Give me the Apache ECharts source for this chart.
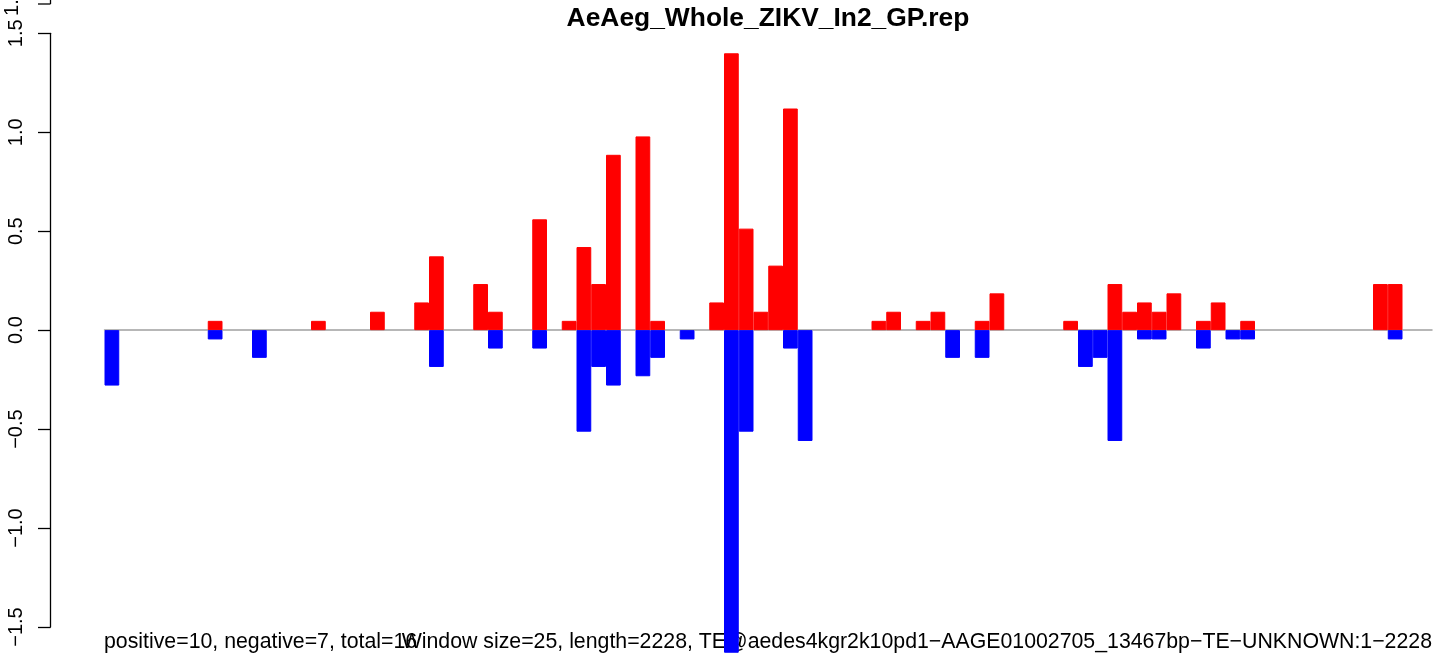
<!DOCTYPE html>
<html><head><meta charset="utf-8">
<script src="https://cdn.jsdelivr.net/npm/echarts@6/dist/echarts.min.js"></script>
<style>html,body{margin:0;padding:0;background:#fff}#c{width:1433px;height:654px}</style>
</head><body><div id="c"></div>
<script>
const chartTitle = 'AeAeg_Whole_ZIKV_In2_GP.rep';
const leftNote = 'positive=10, negative=7, total=16';
const rightNote = 'Window size=25, length=2228, TE@aedes4kgr2k10pd1\u2212AAGE01002705_13467bp\u2212TE\u2212UNKNOWN:1\u22122228';
const binCount = 90;
const yTicks = [-1.5, -1.0, -0.5, 0.0, 0.5, 1.0, 1.5];

// positive (red) windows: bin index and value
const posBins = [7, 14, 18, 21, 22, 25, 26, 29, 31, 32, 33, 34, 36, 37, 41, 42, 43, 44, 45, 46, 52, 53, 55, 56, 59, 60, 65, 68, 69, 70, 71, 72, 74, 75, 77, 86, 87];
const posVals = [0.047, 0.047, 0.093, 0.14, 0.373, 0.233, 0.093, 0.56, 0.047, 0.42, 0.233, 0.886, 0.979, 0.047, 0.14, 1.399, 0.513, 0.093, 0.326, 1.12, 0.047, 0.093, 0.047, 0.093, 0.047, 0.186, 0.047, 0.233, 0.093, 0.14, 0.093, 0.186, 0.047, 0.14, 0.047, 0.233, 0.233];

// negative (blue) windows: bin index and value
const negBins = [0, 7, 10, 22, 26, 29, 32, 33, 34, 36, 37, 39, 42, 43, 46, 47, 57, 59, 66, 67, 68, 70, 71, 74, 76, 77, 87];
const negVals = [-0.28, -0.047, -0.14, -0.186, -0.093, -0.093, -0.513, -0.186, -0.28, -0.233, -0.14, -0.047, -1.63, -0.513, -0.093, -0.56, -0.14, -0.14, -0.186, -0.14, -0.56, -0.047, -0.047, -0.093, -0.047, -0.047, -0.047];

const cats = Array.from({length: binCount}, (_, i) => String(i + 1));
const posData = new Array(binCount).fill(null);
posBins.forEach((b, i) => { posData[b] = posVals[i]; });
const negData = new Array(binCount).fill(null);
negBins.forEach((b, i) => { negData[b] = negVals[i]; });

const FONT = '"Liberation Sans", Arial, Helvetica, sans-serif';
const chart = echarts.init(document.getElementById('c'), null, {renderer: 'canvas'});
chart.setOption({
  animation: false,
  backgroundColor: '#ffffff',
  grid: {left: 104.5, right: 1, top: 33.3, bottom: 27, containLabel: false},
  xAxis: {
    type: 'category', data: cats, boundaryGap: true,
    axisLine: {show: true, onZero: true, lineStyle: {color: '#a0a0a0', width: 1.5}},
    axisTick: {show: false}, axisLabel: {show: false}, splitLine: {show: false}
  },
  yAxis: {
    type: 'value', min: yTicks[0], max: yTicks[yTicks.length - 1], interval: 0.5,
    offset: 54,
    axisLine: {show: true, lineStyle: {color: '#000', width: 1.3}},
    axisTick: {show: true, length: 12.5, lineStyle: {color: '#000', width: 1.3}},
    splitLine: {show: false},
    axisLabel: {
      rotate: 90, margin: 24, fontSize: 20, color: '#000', fontFamily: FONT,
      formatter: v => (v < 0 ? '\u2212' : '') + Math.abs(v).toFixed(1)
    }
  },
  series: [
    {type: 'bar', data: posData, barWidth: '100%', barGap: '-100%', clip: false,
     itemStyle: {color: '#ff0000', borderColor: '#ff0000', borderWidth: 1}},
    {type: 'bar', data: negData, barWidth: '100%', barGap: '-100%', clip: false,
     itemStyle: {color: '#0000ff', borderColor: '#0000ff', borderWidth: 1}}
  ],
  graphic: [
    {type: 'text', x: 768, y: 19, style: {text: chartTitle, font: 'bold 26.4px ' + FONT, fill: '#000', align: 'center', verticalAlign: 'middle'}},
    {type: 'text', x: 104, y: 642, style: {text: leftNote, font: '21.3px ' + FONT, fill: '#000', align: 'left', verticalAlign: 'middle'}},
    {type: 'text', x: 1432, y: 642, style: {text: rightNote, font: '21.3px ' + FONT, fill: '#000', align: 'right', verticalAlign: 'middle'}},
    {type: 'line', shape: {x1: 50.5, y1: 0, x2: 50.5, y2: 4}, style: {stroke: '#000', lineWidth: 1.3}},
    {type: 'line', shape: {x1: 38, y1: 4, x2: 50.5, y2: 4}, style: {stroke: '#000', lineWidth: 1.3}},
    {type: 'text', x: 12.5, y: 2, rotation: Math.PI / 2, style: {text: '1.5', font: '20px ' + FONT, fill: '#000', align: 'center', verticalAlign: 'middle'}}
  ]
});
</script>
</body></html>
